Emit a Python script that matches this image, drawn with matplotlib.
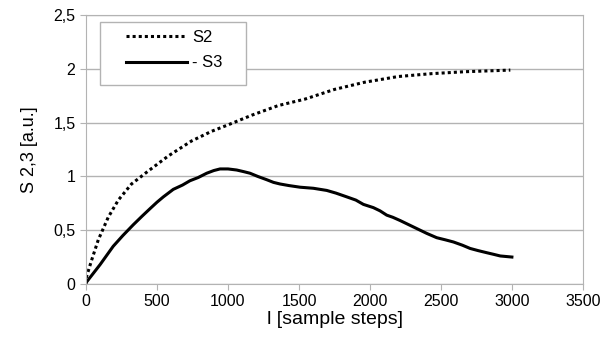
import matplotlib
matplotlib.use("Agg")
import matplotlib.pyplot as plt
from matplotlib.patches import Rectangle

# S2 (dotted)
s2_x = [0, 5, 40, 87, 157, 228, 321, 438, 579, 743, 884, 1000, 1167, 1354, 1542,
        1749, 1961, 2197, 2433, 2669, 2987]
s2_y = [0.0, 0.07, 0.22, 0.41, 0.62, 0.78, 0.93, 1.05, 1.19, 1.33, 1.42, 1.48, 1.57,
        1.66, 1.72, 1.81, 1.877, 1.93, 1.957, 1.975, 1.99]

# S3 (solid)
s3_x = [0, 100, 192, 260, 333, 395, 451, 500, 545, 615, 680, 732, 790, 850, 900, 944,
        1000, 1061, 1110, 1155, 1210, 1272, 1320, 1366, 1430, 1507, 1601, 1695, 1760,
        1836, 1900, 1953, 2023, 2070, 2117, 2160, 2211, 2305, 2399, 2469, 2530, 2587,
        2650, 2704, 2760, 2822, 2870, 2916, 2998]
s3_y = [0.01, 0.18, 0.35, 0.45, 0.55, 0.63, 0.70, 0.76, 0.81, 0.88, 0.92, 0.96, 0.99,
        1.03, 1.055, 1.07, 1.07, 1.06, 1.045, 1.03, 1.0, 0.97, 0.945, 0.93, 0.915, 0.90,
        0.89, 0.87, 0.845, 0.81, 0.78, 0.74, 0.71, 0.68, 0.64, 0.62, 0.59, 0.53, 0.47,
        0.43, 0.41, 0.39, 0.36, 0.33, 0.31, 0.29, 0.275, 0.26, 0.25]

x_ticks = [0, 500, 1000, 1500, 2000, 2500, 3000, 3500]
y_ticks = [0, 0.5, 1, 1.5, 2, 2.5]
y_labels = ["0", "0,5", "1", "1,5", "2", "2,5"]

plt.rcParams['font.family'] = ['Liberation Sans', 'DejaVu Sans']
grey = "#b3b3b3"

fig = plt.figure(figsize=(6.05, 3.4), dpi=100)
ax = fig.add_axes([0.142, 0.165, 0.822, 0.79])

ax.plot(s2_x, s2_y, color="black", lw=2.2, linestyle=(0, (1, 1)), label="S2")
ax.plot(s3_x, s3_y, color="black", lw=2.2, label="- S3")

ax.set_xlim(0, 3500)
ax.set_ylim(0, 2.5)
ax.set_xticks(x_ticks)
ax.set_yticks(y_ticks)
ax.set_yticklabels(y_labels)
ax.yaxis.grid(True, color=grey, lw=1)
ax.set_axisbelow(True)
for s in ax.spines.values():
    s.set_color(grey)
ax.tick_params(colors=grey, labelcolor="black", labelsize=11.5, length=4)

ax.set_xlabel("l [sample steps]", fontsize=14, labelpad=1)
ax.set_ylabel("S 2,3 [a.u.]", fontsize=13)
ax.yaxis.set_label_coords(-0.097, 0.5)

# legend frame drawn separately (wider side padding than matplotlib gives)
ax.add_patch(Rectangle((0.028, 0.74), 0.294, 0.234, transform=ax.transAxes,
                       facecolor="white", edgecolor=grey, lw=1, zorder=4))
leg = ax.legend(loc="upper left", bbox_to_anchor=(0.08, 0.945), fontsize=12,
                frameon=False, handlelength=3.7, handletextpad=0.3,
                borderpad=0, labelspacing=0.62, borderaxespad=0)
leg.set_zorder(5)

fig.savefig("out.png", dpi=100)
